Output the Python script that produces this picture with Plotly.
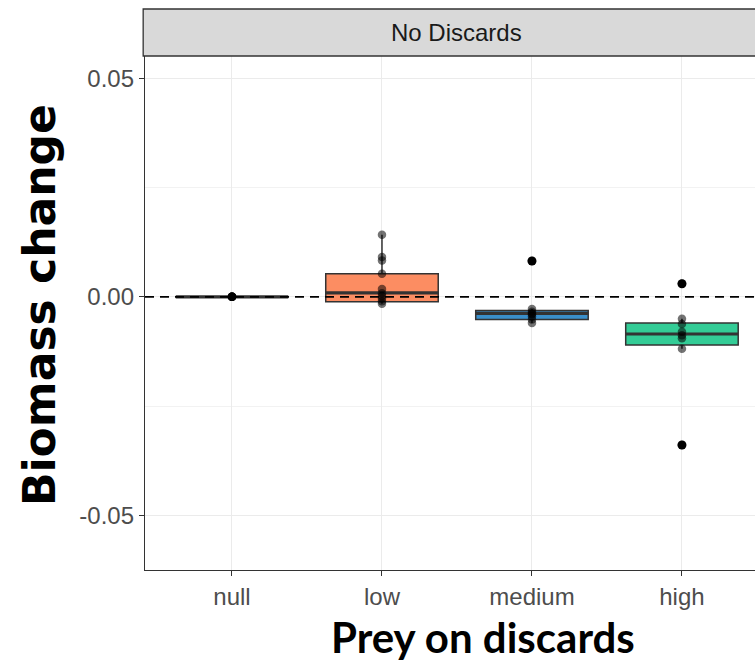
import plotly.graph_objects as go

# Categories and their measured biomass changes
categories = ["null", "low", "medium", "high"]
box_colors = ["#595959", "#FC8D62", "#3A8FCB", "#33CC96"]

points_null = [0.0, 0.0, 0.0, 0.0, 0.0, 0.0, 0.0, 0.0]
points_low = [0.0142, 0.0091, 0.0083, 0.0053, 0.0018, 0.0008, 0.0002, -0.0004, -0.0010, -0.0016]
points_medium = [0.0082, -0.0028, -0.0034, -0.0038, -0.0040, -0.0045, -0.0052, -0.0060]
points_high = [0.0030, -0.0050, -0.0062, -0.0080, -0.0088, -0.0095, -0.0119, -0.0339]

# Box summaries (quartiles and whisker ends)
q1 = [0.0, -0.0011, -0.0052, -0.0110]
median = [0.0, 0.0009, -0.0038, -0.0085]
q3 = [0.0, 0.0053, -0.0031, -0.0060]
lower_fence = [0.0, -0.0016, -0.0060, -0.0119]
upper_fence = [0.0, 0.0142, -0.0028, -0.0050]

# Points beyond the whiskers
outlier_cat = [2, 3, 3]
outlier_val = [0.0082, 0.0030, -0.0339]

y_ticks = [-0.05, 0.0, 0.05]
y_tick_text = ["-0.05", "0.00", "0.05"]

all_points = [points_null, points_low, points_medium, points_high]
x_range = [-0.58, 3.487]
y_range = [-0.0625, 0.0551]
box_width = 0.75
dark = "#333333"

fig = go.Figure()

for i, cat in enumerate(categories):
    fig.add_trace(go.Box(
        x=[i], q1=[q1[i]], median=[median[i]], q3=[q3[i]],
        lowerfence=[lower_fence[i]], upperfence=[upper_fence[i]],
        width=box_width, whiskerwidth=0, fillcolor=box_colors[i],
        line=dict(color=dark, width=1.5), boxpoints=False,
        name=cat, showlegend=False, hoverinfo="skip",
    ))
    # thicker median bar
    fig.add_trace(go.Scatter(
        x=[i - box_width / 2, i + box_width / 2], y=[median[i], median[i]],
        mode="lines", line=dict(color=dark, width=3.2),
        showlegend=False, hoverinfo="skip",
    ))

# zero reference line
fig.add_trace(go.Scatter(
    x=x_range, y=[0, 0], mode="lines",
    line=dict(color="black", width=1.6, dash="9px,6px"),
    showlegend=False, hoverinfo="skip", cliponaxis=True,
))

# outliers
fig.add_trace(go.Scatter(
    x=outlier_cat, y=outlier_val, mode="markers",
    marker=dict(color="black", size=9, line=dict(width=0)),
    showlegend=False, hoverinfo="skip", cliponaxis=False,
))

# individual observations
for i, pts in enumerate(all_points):
    fig.add_trace(go.Scatter(
        x=[i] * len(pts), y=pts, mode="markers",
        marker=dict(color="rgba(0,0,0,0.55)", size=8.5, line=dict(width=0)),
        showlegend=False, hoverinfo="skip", cliponaxis=False,
    ))

plot_h = 670 - 56 - 100
plot_w = 755 - 145

fig.update_layout(
    width=755, height=670,
    margin=dict(l=145, r=0, t=56, b=100),
    paper_bgcolor="white", plot_bgcolor="white",
    font=dict(family="Liberation Sans, Arial, sans-serif"),
    xaxis=dict(
        range=x_range, tickvals=list(range(len(categories))), ticktext=categories,
        showgrid=True, gridcolor="#EBEBEB", gridwidth=1,
        showline=True, linecolor=dark, linewidth=1.3,
        ticks="outside", ticklen=5, tickcolor=dark, tickwidth=1.3,
        tickfont=dict(size=24, color="#4D4D4D"), zeroline=False,
    ),
    yaxis=dict(
        range=y_range, tickvals=y_ticks, ticktext=y_tick_text,
        showgrid=True, gridcolor="#EBEBEB", gridwidth=1,
        minor=dict(tickvals=[-0.025, 0.025], showgrid=True, gridcolor="#F2F2F2", gridwidth=1, ticks=""),
        showline=True, linecolor=dark, linewidth=1.3,
        ticks="outside", ticklen=5, tickcolor=dark, tickwidth=1.3,
        tickfont=dict(size=24, color="#4D4D4D"), zeroline=False,
    ),
    shapes=[dict(
        type="rect", xref="paper", yref="paper",
        x0=-0.003, x1=1.02, y0=1.0, y1=1 + 47 / plot_h,
        fillcolor="#D9D9D9", line=dict(color=dark, width=1.3), layer="above",
    )],
    annotations=[
        dict(text="No Discards", xref="x", yref="paper", x=1.5, y=1 + 23.5 / plot_h,
             showarrow=False, xanchor="center", yanchor="middle",
             font=dict(size=24, color="#1A1A1A")),
        dict(text="<b>Biomass change</b>", xref="paper", yref="paper",
             x=(39 - 145) / plot_w, y=(570 - 305) / plot_h, textangle=-90,
             showarrow=False, xanchor="center", yanchor="middle",
             font=dict(size=44, color="black", family="DejaVu Sans, sans-serif")),
        dict(text="<b>Prey on discards</b>", xref="paper", yref="paper",
             x=(483 - 145) / plot_w, y=(570 - 637) / plot_h,
             showarrow=False, xanchor="center", yanchor="middle",
             font=dict(size=42, color="black", family="Lato, Open Sans, sans-serif")),
    ],
)

fig.write_html("out.html")
